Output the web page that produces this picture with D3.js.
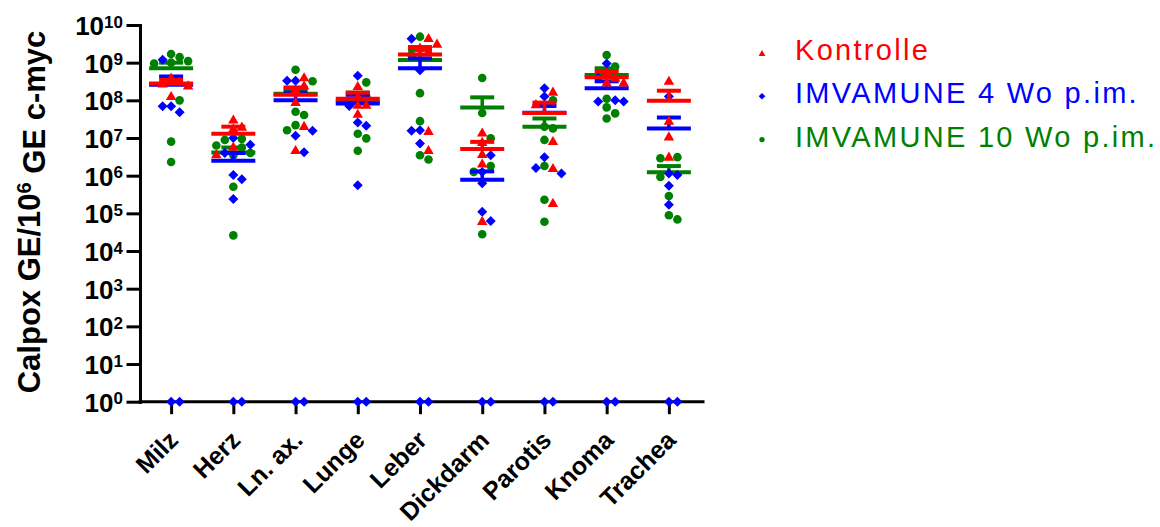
<!DOCTYPE html>
<html><head><meta charset="utf-8">
<script src="https://cdn.jsdelivr.net/npm/d3@7"></script>
<style>
html,body{margin:0;padding:0;background:#fff;}
svg{display:block;font-family:"Liberation Sans",Arial,sans-serif;}
</style></head><body>
<svg id="c" width="1160" height="527"></svg>
<script>
const categories = ["Milz","Herz","Ln. ax.","Lunge","Leber","Dickdarm","Parotis","Knoma","Trachea"];
const seriesNames = ["Kontrolle","IMVAMUNE 4 Wo p.im.","IMVAMUNE 10 Wo p.im."];
const seriesColors = ["#ff0000","#0000ff","#008000"];

const kontrolleVals = [
  [4.0e8,3.2e8,2.8e8,2.5e8,1.3e8],
  [3.1e7,2.0e7,1.8e7,5.9e6,3.7e6],
  [4.1e8,2.5e8,2.0e8,9.1e7,2.1e7,4.8e6],
  [2.4e8,1.26e8,7.6e7,7.6e7,4.4e7],
  [4.5e9,3.2e9,2.5e9,2.0e9,1.55e7,4.8e6],
  [1.4e7,7.9e6,3.8e6,2.1e6,6.3e4],
  [1.7e8,7.9e7,8.3e6,1.6e6,1.9e5],
  [5.6e8,4.0e8,3.0e8,3.0e8],
  [3.3e8,2.9e7,1.1e7,3.2e6]
];
const kontrolleMean  = [2.8e8,1.3e7,1.4e8,1.1e8,1.66e9,5.1e6,4.6e7,4.1e8,9.8e7];
const kontrolleUpper = [3.5e8,2.0e7,2.2e8,1.6e8,2.6e9,7.9e6,8.7e7,5.8e8,1.8e8];

const imv4Vals = [
  [1.2e9,7.0e7,7.0e7,4.8e7,0,0],
  [1.0e7,6.6e6,4.0e6,1.05e6,8.1e5,2.4e5,0,0],
  [3.3e8,3.3e8,1.55e7,1.15e7,4.2e6,0,0],
  [4.5e8,7.1e7,2.6e7,2.1e7,5.6e5,0,0],
  [4.3e9,6.3e8,1.6e7,1.55e7,7.2e6,0,0],
  [3.5e6,1.26e6,6.3e5,1.1e5,6.3e4,0,0],
  [2.1e8,1.26e8,3.1e6,1.6e6,1.15e6,0,0],
  [9.5e8,4.0e8,1.0e8,9.3e7,9.3e7,0,0],
  [1.26e8,1.15e6,1.05e6,5.4e5,1.7e5,0,0]
];
const imv4Mean  = [2.6e8,2.5e6,1.0e8,8.3e7,7.1e8,7.8e5,4.7e7,2.1e8,1.8e7];
const imv4Upper = [4.3e8,4.0e6,1.6e8,1.4e8,1.3e9,1.3e6,7.1e7,3.2e8,3.5e7];

const imv10Vals = [
  [1.7e9,1.4e9,1.1e9,1.0e9,9.5e8,1.0e8,8.0e6,2.3e6],
  [9.5e6,8.9e6,6.3e6,5.6e6,4.0e6,3.5e6,5.1e5,2.6e4],
  [6.5e8,3.2e8,5.0e7,4.1e7,2.2e7,1.6e7],
  [3.0e8,1.26e8,1.3e7,9.8e6,4.6e6],
  [4.9e9,1.6e9,1.55e8,2.8e7,3.5e6,2.7e6],
  [3.9e8,4.6e7,9.8e6,1.8e6,1.26e6,2.8e4],
  [1.0e8,2.0e7,1.8e7,8.9e6,1.8e6,2.3e5,6.0e4],
  [1.6e9,7.9e8,1.1e8,6.5e7,4.5e7,3.3e7],
  [3.1e6,2.9e6,9.3e5,2.9e5,8.9e4,6.9e4]
];
const imv10Mean  = [7.1e8,4.1e6,1.5e8,9.5e7,1.17e9,6.5e7,2.0e7,4.7e8,1.23e6];
const imv10Upper = [1.0e9,5.6e6,2.0e8,1.6e8,2.2e9,1.2e8,3.3e7,7.1e8,1.8e6];

const yTickValues = [1e0,1e1,1e2,1e3,1e4,1e5,1e6,1e7,1e8,1e9,1e10];
const yTickExponents = ["0","1","2","3","4","5","6","7","8","9","10"];
const yTitleParts = ["Calpox GE/10","6"," GE c-myc"];

const series = [
  {name:seriesNames[0], color:seriesColors[0], vals:kontrolleVals, mean:kontrolleMean, upper:kontrolleUpper, shape:"tri"},
  {name:seriesNames[1], color:seriesColors[1], vals:imv4Vals, mean:imv4Mean, upper:imv4Upper, shape:"dia"},
  {name:seriesNames[2], color:seriesColors[2], vals:imv10Vals, mean:imv10Mean, upper:imv10Upper, shape:"dot"}
];

const svg = d3.select("#c");
const x = d3.scalePoint().domain(categories).range([140,700]).padding(0.5);
const y = d3.scaleLog().domain([1,1e10]).range([401.7,25]);
const yv = v => y(Math.max(v,1));

function symPath(shape, big){
  if(shape==="tri") return d3.symbol().type(d3.symbolTriangle).size(big?48:20)();
  if(shape==="dia") return d3.symbol().type(d3.symbolSquare).size(big?50:22)();
  return d3.symbol().type(d3.symbolCircle).size(big?58:22)();
}
function symTransform(shape, px, py){
  if(shape==="tri") return `translate(${px},${py+1})`;
  if(shape==="dia") return `translate(${px},${py}) rotate(45)`;
  return `translate(${px},${py})`;
}

// dodge placement per category (all series together)
const placed = [];
categories.forEach((cat,ci)=>{
  const pts = [];
  series.forEach((s,si)=> s.vals[ci].forEach(v=> pts.push({si, v, cat})));
  pts.sort((a,b)=> b.v - a.v);
  const done = [];
  const step = 8.5;
  const offs = [0, step, -step, 2*step, -2*step, 3*step, -3*step, 4*step, -4*step];
  pts.forEach(p=>{
    const py = yv(p.v);
    let px = x(cat);
    for(const o of offs){
      const cx = x(cat)+o;
      if(done.every(q=> Math.hypot(q.px-cx,q.py-py) >= step-0.5)){ px = cx; break; }
    }
    p.px = px; p.py = py;
    done.push(p); placed.push(p);
  });
});

// axes
const gy = svg.append("g").attr("transform","translate(140,0)")
  .call(d3.axisLeft(y).tickValues(yTickValues).tickSize(12).tickSizeOuter(0).tickFormat(""));
gy.selectAll("path,line").attr("stroke","#000").attr("stroke-width",3).attr("stroke-linecap","square");
gy.selectAll(".tick").each(function(d,i){
  const t = d3.select(this).append("text")
    .attr("x",-17).attr("y",0).attr("dy","0.36em")
    .attr("text-anchor","end").attr("fill","#000")
    .style("font-size","26px").style("font-weight","bold");
  t.append("tspan").text("10");
  t.append("tspan").attr("dy","-0.42em").style("font-size","17px").text(yTickExponents[i]);
});

const gx = svg.append("g").attr("transform","translate(0,401.7)")
  .call(d3.axisBottom(x).tickSize(11).tickSizeOuter(0));
gx.select(".domain").attr("d","M140,0H703");
gx.selectAll("path,line").attr("stroke","#000").attr("stroke-width",3).attr("stroke-linecap","square");
gx.selectAll(".tick text")
  .attr("x",null).attr("y",null).attr("dy",null)
  .attr("transform","translate(8,40) rotate(-45)")
  .attr("text-anchor","end").attr("fill","#000")
  .style("font-size","25px").style("font-weight","bold")
  .style("font-family","'Liberation Sans',Arial,sans-serif");

// y title
const yt = svg.append("text")
  .attr("transform","translate(40,212) rotate(-90)")
  .attr("text-anchor","middle").attr("fill","#000")
  .style("font-size","31px").style("font-weight","bold");
yt.append("tspan").text(yTitleParts[0]);
yt.append("tspan").attr("dy","-0.45em").style("font-size","20px").text(yTitleParts[1]);
yt.append("tspan").attr("dy","0.45em").text(yTitleParts[2]);

// series marks: draw green, blue, red
[2,1,0].forEach(si=>{
  const s = series[si];
  const g = svg.append("g");
  g.selectAll("path.pt").data(placed.filter(p=>p.si===si)).join("path")
    .attr("class","pt").attr("d",symPath(s.shape,true))
    .attr("transform",p=>symTransform(s.shape,p.px,p.py))
    .attr("fill",s.color);
  categories.forEach((cat,ci)=>{
    const cx = x(cat), my = yv(s.mean[ci]), uy = yv(s.upper[ci]);
    g.append("line").attr("x1",cx).attr("x2",cx).attr("y1",my).attr("y2",uy)
      .attr("stroke",s.color).attr("stroke-width",3.5);
    g.append("line").attr("x1",cx-12).attr("x2",cx+12).attr("y1",uy).attr("y2",uy)
      .attr("stroke",s.color).attr("stroke-width",4);
    g.append("line").attr("x1",cx-22).attr("x2",cx+22).attr("y1",my).attr("y2",my)
      .attr("stroke",s.color).attr("stroke-width",4);
  });
});

// legend
const lg = svg.append("g");
series.forEach((s,i)=>{
  const by = 60 + i*43.3;
  lg.append("path").attr("d",symPath(s.shape,false))
    .attr("transform",symTransform(s.shape,762,by-7))
    .attr("fill",s.color);
  lg.append("text").attr("x",795).attr("y",by)
    .attr("fill",s.color).style("font-size","29px").style("letter-spacing","2.3px")
    .text(s.name);
});
</script>
</body></html>
